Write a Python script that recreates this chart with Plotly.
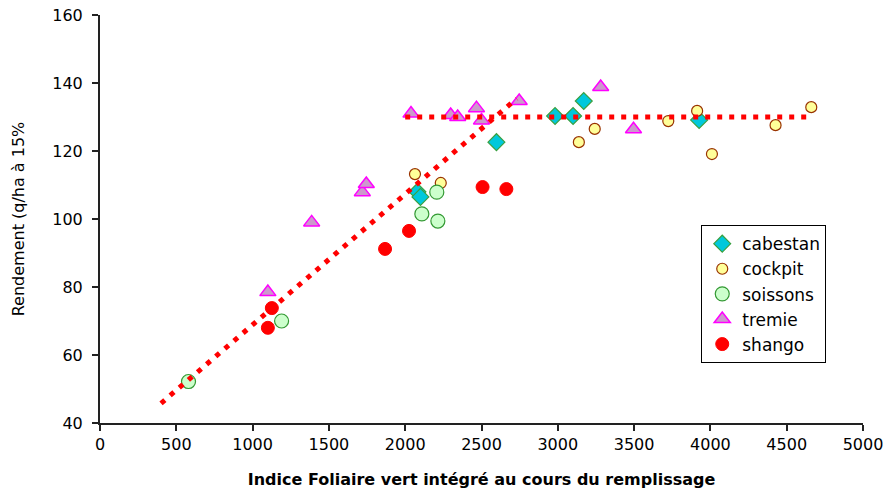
import plotly.graph_objects as go

# Yield vs integrated green leaf area index, per cultivar
cabestan_x = [2080, 2100, 2598, 2982, 3100, 3170, 3926]
cabestan_y = [108.0, 106.5, 122.6, 130.3, 130.3, 134.7, 129.1]

cockpit_x = [2064, 2233, 3138, 3242, 3724, 3913, 4010, 4427, 4661]
cockpit_y = [113.2, 110.6, 122.6, 126.5, 128.8, 131.8, 119.1, 127.6, 132.9]

soissons_x = [580, 1190, 2109, 2207, 2214]
soissons_y = [52.2, 70.0, 101.5, 107.9, 99.4]

tremie_x = [1100, 1387, 1719, 1745, 2038, 2298, 2344, 2467, 2500, 2747, 3281, 3496]
tremie_y = [78.5, 99.0, 107.9, 110.3, 131.0, 130.6, 130.0, 132.6, 129.0, 134.7, 138.8, 126.4]

shango_x = [1100, 1126, 1868, 2025, 2507, 2663]
shango_y = [68.0, 73.8, 91.2, 96.5, 109.4, 108.8]

# Linear-plateau model: rising segment and plateau
slope_x = [400, 2730]
slope_y = [45.8, 135.4]
plateau_x = [2000, 4670]
plateau_y = [130, 130]

x_ticks = [0, 500, 1000, 1500, 2000, 2500, 3000, 3500, 4000, 4500, 5000]
y_ticks = [40, 60, 80, 100, 120, 140, 160]

fig = go.Figure()

series = [
    ("cabestan", cabestan_x, cabestan_y,
     dict(symbol="diamond", size=13, color="#00c8dc", line=dict(color="#3aa040", width=1.2))),
    ("cockpit", cockpit_x, cockpit_y,
     dict(symbol="circle", size=11, color="#ffff99", line=dict(color="#993300", width=1.2))),
    ("soissons", soissons_x, soissons_y,
     dict(symbol="circle", size=14, color="#ccffcc", line=dict(color="#339933", width=1.2))),
    ("tremie", tremie_x, tremie_y,
     dict(symbol="triangle-up", size=14, color="#cc99cc", line=dict(color="#ff00ff", width=1.5))),
    ("shango", shango_x, shango_y,
     dict(symbol="circle", size=13, color="#ff0000", line=dict(color="#ff0000", width=1))),
]
for name, xs, ys, mk in series:
    fig.add_trace(go.Scatter(x=xs, y=ys, mode="markers", name=name, marker=mk))

for xs, ys in [(slope_x, slope_y), (plateau_x, plateau_y)]:
    fig.add_trace(go.Scatter(x=xs, y=ys, mode="lines", showlegend=False,
                             line=dict(color="#ff0000", width=5, dash="5px,7px")))

axis_common = dict(
    showgrid=False, zeroline=False, showline=True, linecolor="#222222", linewidth=2,
    ticks="outside", ticklen=6, tickcolor="#222222", tickwidth=1.5,
    tickfont=dict(family="DejaVu Sans", size=16, color="black"),
    ticklabeloverflow="allow", automargin=False,
)

fig.update_layout(
    width=884, height=489,
    margin=dict(l=100, r=21, t=15, b=66),
    paper_bgcolor="white", plot_bgcolor="white",
    xaxis=dict(range=[0, 5000], tickvals=x_ticks,
               title=dict(text="<b>Indice Foliaire vert intégré au cours du remplissage</b>",
                          font=dict(family="DejaVu Sans", size=16, color="black"), standoff=22),
               **axis_common),
    yaxis=dict(range=[40, 160], tickvals=y_ticks, ticklabelstandoff=6,
               title=dict(text="Rendement (q/ha à 15%",
                          font=dict(family="DejaVu Sans", size=16, color="black"), standoff=24),
               **axis_common),
    legend=dict(x=0.788, y=0.485, xanchor="left", yanchor="top",
                bordercolor="black", borderwidth=1, bgcolor="white",
                font=dict(family="DejaVu Sans", size=17, color="black"),
                itemwidth=30, tracegroupgap=0),
    showlegend=True,
)

fig.write_html("out.html")
